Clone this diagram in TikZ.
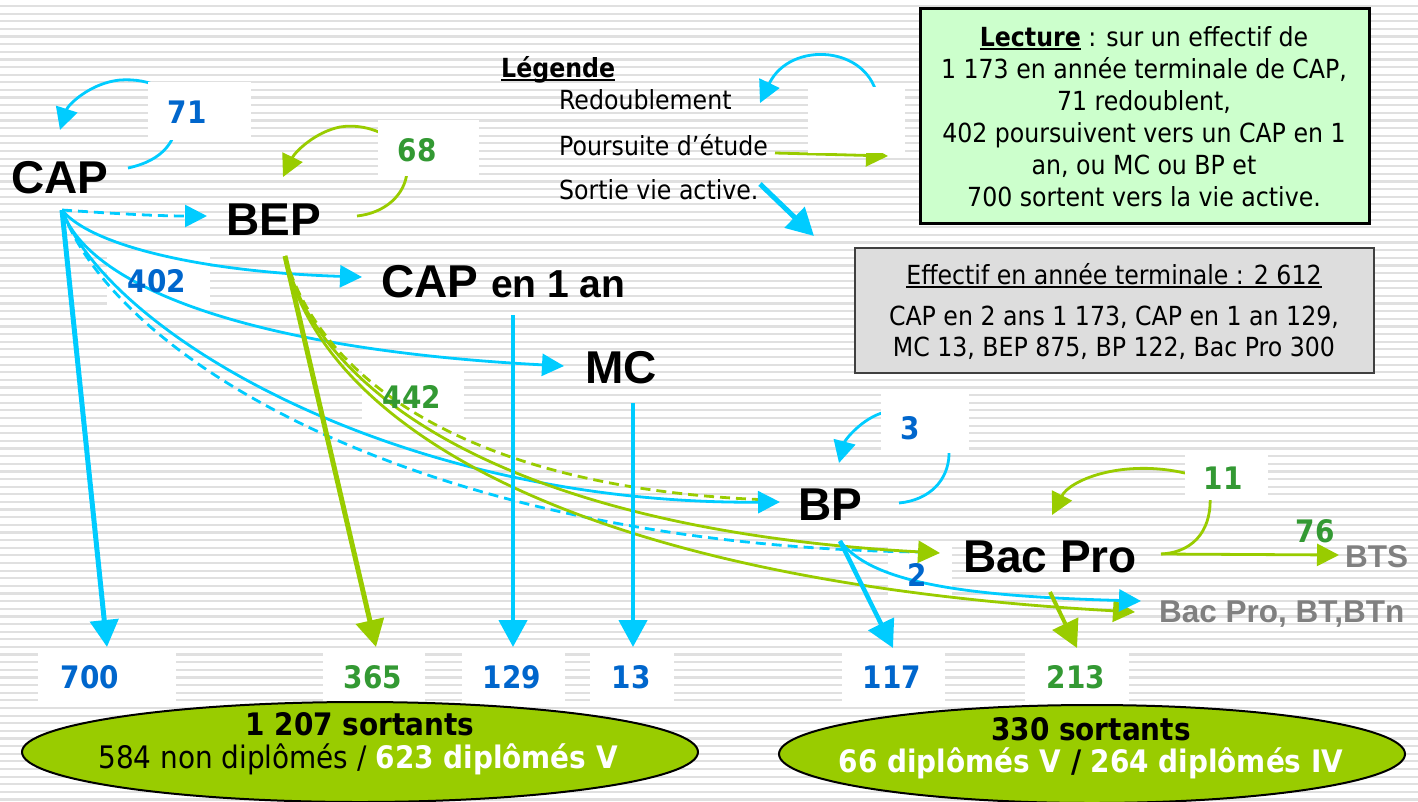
\documentclass[tikz,border=0pt]{standalone}
\usepackage{fontspec}
\setmainfont{DejaVu Sans Condensed}
\newfontfamily\labfont{Liberation Sans}
\usetikzlibrary{arrows.meta,shapes.geometric}
\definecolor{cy}{RGB}{0,204,255}
\definecolor{gn}{RGB}{153,204,0}
\definecolor{nb}{RGB}{0,102,204}
\definecolor{ng}{RGB}{51,153,51}
\definecolor{lg}{RGB}{204,255,204}
\definecolor{gbox}{RGB}{221,221,221}
\definecolor{gtxt}{RGB}{128,128,128}
\definecolor{stripe}{RGB}{224,224,224}
\newcommand{\ulx}[1]{\setbox0=\hbox{#1}\rlap{\rule[-4pt]{\wd0}{2pt}}\box0\relax}
\tikzset{
  biglab/.style={font=\labfont\bfseries\fontsize{46}{46}\selectfont, inner sep=0pt},
  graylab/.style={font=\labfont\bfseries\fontsize{31.5}{31.5}\selectfont, text=gtxt, inner sep=0pt, anchor=west},
  numb/.style={font=\bfseries\fontsize{31}{31}\selectfont, text=nb, inner sep=0pt},
  numg/.style={font=\bfseries\fontsize{31}{31}\selectfont, text=ng, inner sep=0pt},
  bodytxt/.style={font=\fontsize{26.3}{32}\selectfont, inner sep=0pt, anchor=base},
  wbox/.style={fill=white, draw=none, inner sep=0pt},
  cyl/.style={draw=cy, line width=2.8pt},
  grl/.style={draw=gn, line width=2.8pt},
  dsh/.style={dash pattern=on 10pt off 6pt},
  tipA/.style={-{Triangle[length=22pt,width=22pt]}},
  tipB/.style={-{Triangle[length=27pt,width=28pt]}},
  ellbox/.style={ellipse, draw=black, line width=2pt, fill=gn, inner sep=0pt}
}
\begin{document}
\begin{tikzpicture}[x=1pt,y=-1pt]
\useasboundingbox (0,0) rectangle (1418,801);
\fill[white] (0,0) rectangle (1418,801);
\foreach \i in {0,...,104}{\pgfmathsetmacro\yy{6+7.63*\i}\draw[draw=stripe, line width=2.2pt] (0,\yy) -- (1418,\yy);}

% boxes under curves
\node[wbox, minimum width=103pt, minimum height=54pt] (b402) at (158.5,280) {};
\node[wbox, minimum width=102pt, minimum height=55pt] (b442) at (413,394.5) {};
\node[wbox, minimum width=64pt, minimum height=55pt] (b2) at (920,570.5) {};

% main nodes
\node[biglab] (cap) at (60,178) {CAP};
\node[biglab] (bep) at (274,220) {BEP};
\node[biglab, anchor=west] (cap1) at (381,282) {CAP {\fontsize{39}{39}\selectfont en 1 an}};
\node[biglab] (mc) at (621,368) {MC};
\node[biglab] (bp) at (830,505) {BP};
\node[biglab] (bac) at (1050,557) {Bac Pro};
\node[graylab] (bts) at (1345,557) {BTS};
\node[graylab] (btn) at (1159,614) {Bac Pro, BT,BTn};

% coordinates
\coordinate (capO) at (62,210);
\coordinate (bepIn) at (207,216);
\coordinate (cap1In) at (362,277);
\coordinate (mcIn) at (564,366);
\coordinate (bpIn) at (780,502);
\coordinate (bacDash) at (918,552);
\coordinate (bepO) at (285,256);
\coordinate (bpDash) at (772,500);
\coordinate (bacIn) at (940,553);
\coordinate (btnG) at (1135,612);
\coordinate (btnC) at (1141,601);
\coordinate (cap1Bot) at (513,315);
\coordinate (mcBot) at (633,403);
\coordinate (bpO) at (840,541);
\coordinate (bacR) at (1161,554);
\coordinate (btsIn) at (1339,555);
\coordinate (bacB) at (1050,592);
\coordinate (t700) at (107,647);
\coordinate (t365) at (376,647);
\coordinate (t129) at (513,647);
\coordinate (t13) at (633,647);
\coordinate (t117) at (893,648);
\coordinate (t213) at (1077,648);

% CAP connectors
\draw[cyl, dsh, tipA] (capO) .. controls (120,214) and (160,216) .. (bepIn);
\draw[cyl, tipA] (capO) .. controls (90,245) and (200,272) .. (cap1In);
\draw[cyl, tipA] (capO) .. controls (90,290) and (260,350) .. (mcIn);
\draw[cyl, dsh] (capO) .. controls (120,365) and (430,545) .. (bacDash);
\draw[grl, dsh] (bepO) .. controls (320,380) and (470,490) .. (bpDash);
\draw[cyl, tipA] (capO) .. controls (110,335) and (400,505) .. (bpIn);
\draw[draw=cy, line width=5pt, tipB] (capO) -- (t700);
% BEP connectors
\draw[grl, tipA] (bepO) .. controls (320,400) and (520,530) .. (bacIn);
\draw[grl, tipA] (bepO) .. controls (320,420) and (560,580) .. (btnG);
\draw[draw=gn, line width=5pt, tipB] (bepO) -- (t365);
% verticals
\draw[draw=cy, line width=4.5pt, tipB] (cap1Bot) -- (t129);
\draw[draw=cy, line width=4.5pt, tipB] (mcBot) -- (t13);
% BP and Bac Pro
\draw[draw=cy, line width=4.5pt, tipB] (bpO) -- (t117);
\draw[cyl, tipA] (bpO) .. controls (870,580) and (950,596) .. (btnC);
\draw[grl, tipA] (bacR) -- (btsIn);
\draw[draw=gn, line width=4pt, tipB] (bacB) -- (t213);

% loops
\coordinate (capLs) at (128,168); \coordinate (capLe) at (60,130);
\draw[cyl, tipA] (capLs) .. controls (165,160) and (175,140) .. (178,120) .. controls (180,90) and (150,78) .. (120,80) .. controls (90,83) and (68,105) .. (capLe);
\coordinate (bepLs) at (357,216); \coordinate (bepLe) at (283,177);
\draw[grl, tipA] (bepLs) .. controls (385,213) and (405,195) .. (407,172) .. controls (410,140) and (370,122) .. (340,127) .. controls (315,132) and (295,152) .. (bepLe);
\coordinate (bpLs) at (899,503); \coordinate (bpLe) at (839,463);
\draw[cyl, tipA] (bpLs) .. controls (930,500) and (948,480) .. (949,455) .. controls (950,425) and (910,405) .. (885,412) .. controls (862,418) and (845,440) .. (bpLe);
\coordinate (bacLe) at (1052,515);
\draw[grl, tipA] (bacR) .. controls (1198,552) and (1212,525) .. (1210,495) .. controls (1208,478) and (1195,475) .. (1180,472) .. controls (1120,460) and (1070,480) .. (bacLe);

% legend arrows
\coordinate (lgA1) at (878,100); \coordinate (lgA2) at (760,103);
\draw[cyl, tipA] (lgA1) .. controls (870,45) and (790,40) .. (lgA2);
\coordinate (lgB1) at (775,153); \coordinate (lgB2) at (888,156);
\draw[grl, tipA] (lgB1) -- (lgB2);
\coordinate (lgC1) at (760,184); \coordinate (lgC2) at (814,236);
\draw[draw=cy, line width=5pt, tipB] (lgC1) -- (lgC2);

% boxes over loops
\node[wbox, minimum width=103pt, minimum height=58pt] (b71) at (199.5,111) {};
\node[wbox, minimum width=101pt, minimum height=56pt] (b68) at (428.5,148) {};
\node[wbox, minimum width=88pt, minimum height=60pt] (b3) at (925,423) {};
\node[wbox, minimum width=83pt, minimum height=50pt] (b11) at (1226.5,475) {};
\node[wbox, minimum width=97pt, minimum height=66pt] (bleg) at (856.5,120) {};
\node[wbox, minimum width=138pt, minimum height=53pt] (b700) at (107,676.5) {};
\node[wbox, minimum width=102pt, minimum height=53pt] (b365) at (374,676.5) {};
\node[wbox, minimum width=103pt, minimum height=53pt] (b129) at (513.5,676.5) {};
\node[wbox, minimum width=84pt, minimum height=53pt] (b13) at (632,676.5) {};
\node[wbox, minimum width=103pt, minimum height=53pt] (b117) at (893.5,676.5) {};
\node[wbox, minimum width=104pt, minimum height=53pt] (b213) at (1077,676.5) {};

% numbers
\node[numb] (n71) at (187,112) {71};
\node[numg] (n68) at (417,150) {68};
\node[numb] (n402) at (157,281) {402};
\node[numg] (n442) at (412,397) {442};
\node[numb] (n3) at (910,428) {3};
\node[numb] (n2) at (917,575) {2};
\node[numg] (n11) at (1223,478) {11};
\node[numg] (n76) at (1315,531) {76};
\node[numb] (n700) at (90,677) {700};
\node[numg] (n365) at (373,677) {365};
\node[numb] (n129) at (512,677) {129};
\node[numb] (n13) at (631,677) {13};
\node[numb] (n117) at (892,677) {117};
\node[numg] (n213) at (1076,677) {213};

% legend text
\node[bodytxt, anchor=base west] (leg) at (501,77) {\ulx{\bfseries Légende}};
\node[bodytxt, anchor=base west] (leg1) at (559,109) {Redoublement};
\node[bodytxt, anchor=base west] (leg2) at (559,155) {Poursuite d’étude};
\node[bodytxt, anchor=base west] (leg3) at (559,199) {Sortie vie active.};

% Lecture box
\node[draw=black, line width=3pt, fill=lg, minimum width=449pt, minimum height=215pt, inner sep=0pt] (lect) at (1144.5,115.5) {};
\node[bodytxt] (lt1) at (1144,46) {\ulx{\bfseries Lecture} : sur un effectif de};
\node[bodytxt] (lt2) at (1144,78) {1 173 en année terminale de CAP,};
\node[bodytxt] (lt3) at (1144,110) {71 redoublent,};
\node[bodytxt] (lt4) at (1144,142) {402 poursuivent vers un CAP en 1};
\node[bodytxt] (lt5) at (1144,174) {an, ou MC ou BP et};
\node[bodytxt] (lt6) at (1144,206) {700 sortent vers la vie active.};

% Effectif box
\node[draw=black!75, line width=2pt, fill=gbox, minimum width=519pt, minimum height=125pt, inner sep=0pt] (eff) at (1114.5,310.5) {};
\node[bodytxt] (ef1) at (1114,284) {\ulx{Effectif en année terminale : 2 612}};
\node[bodytxt] (ef2) at (1114,325) {CAP en 2 ans 1 173, CAP en 1 an 129,};
\node[bodytxt] (ef3) at (1114,356) {MC 13, BEP 875, BP 122, Bac Pro 300};

% ellipses
\node[ellbox, minimum width=676pt, minimum height=100pt] (ellL) at (360,752) {};
\node[ellbox, minimum width=626pt, minimum height=98pt] (ellR) at (1092,754) {};
\node[bodytxt, font=\bfseries\fontsize{31}{31}\selectfont] (eL1) at (360,735) {1 207 sortants};
\node[bodytxt, font=\fontsize{31}{31}\selectfont] (eL2) at (358,768) {584 non diplômés / \textcolor{white}{\bfseries 623 diplômés V}};
\node[bodytxt, font=\bfseries\fontsize{31}{31}\selectfont] (eR1) at (1091,740) {330 sortants};
\node[bodytxt, font=\bfseries\fontsize{31}{31}\selectfont] (eR2) at (1091,772) {\textcolor{white}{66 diplômés V} / \textcolor{white}{264 diplômés IV}};
\end{tikzpicture}
\end{document}
